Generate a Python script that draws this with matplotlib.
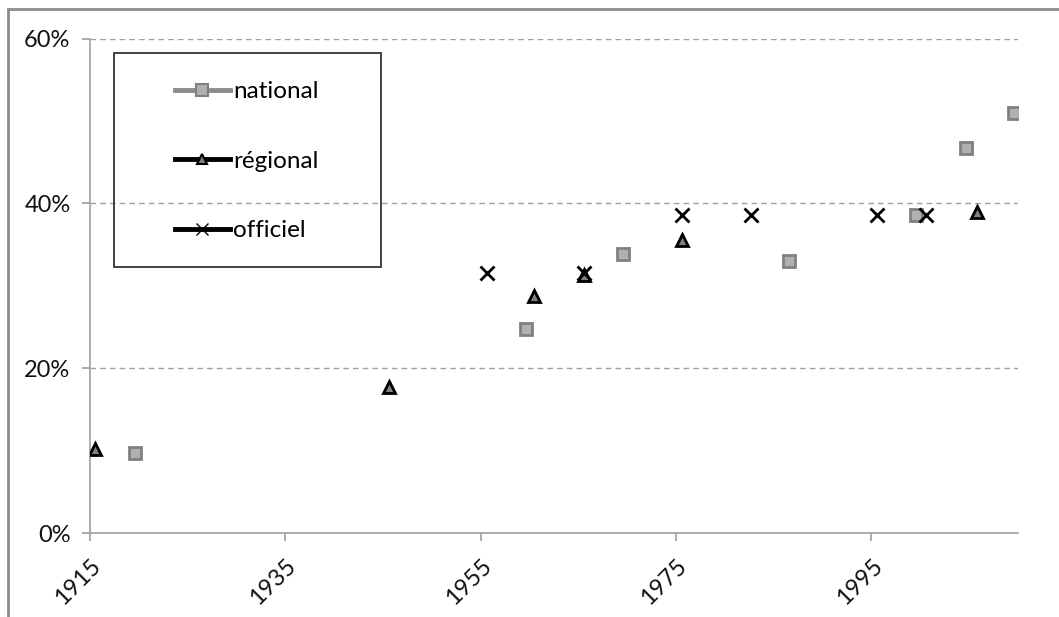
import matplotlib.pyplot as plt
import matplotlib.transforms as mtrans
from matplotlib.lines import Line2D
from matplotlib.patches import Rectangle

plt.rcParams['font.family'] = ['Lato', 'DejaVu Sans']

# values (share, %)
nat_years = [1919.6, 1959.6, 1969.6, 1986.6, 1999.6, 2004.7, 2009.6]
nat_vals = [9.7, 24.8, 33.8, 33.0, 38.6, 46.7, 50.9]
reg_years = [1915.5, 1945.6, 1960.5, 1965.6, 1975.6, 2005.8]
reg_vals = [10.2, 17.7, 28.8, 31.3, 35.6, 38.9]
off_years = [1955.6, 1965.6, 1975.6, 1982.7, 1995.6, 2000.6]
off_vals = [31.6, 31.6, 38.6, 38.6, 38.6, 38.6]
labels = ['national', 'régional', 'officiel']
xticks = [1915, 1935, 1955, 1975, 1995]
yticks = [0, 20, 40, 60]

W, H = 1059, 617
fig = plt.figure(figsize=(W / 100, H / 100), dpi=100)
ax = fig.add_axes([90 / W, 1 - 533 / H, (1018 - 90) / W, (533 - 38.5) / H])

# outer chart frame
fig.patches.append(Rectangle((8 / W, -0.1), 1.2, 1 - 9 / H + 0.1, transform=fig.transFigure,
                             fill=False, edgecolor='#8c8c8c', lw=2))

ax.plot(nat_years, nat_vals, ls='none', marker='s', ms=8.5, mfc='#b0b0b0',
        mec='#808080', mew=2, zorder=3)
ax.plot(reg_years, reg_vals, ls='none', marker='^', ms=8, mfc='#808080',
        mec='black', mew=2, zorder=4)
ax.plot(off_years, off_vals, ls='none', marker='x', ms=10, mec='black',
        mew=2, zorder=5)

ax.set_xlim(1915, 2010)
ax.set_ylim(0, 60)
ax.grid(axis='y', ls=(0, (4, 3)), color='#a0a0a0', lw=1)
ax.set_axisbelow(True)
for s in ['top', 'right']:
    ax.spines[s].set_visible(False)
for s in ['left', 'bottom']:
    ax.spines[s].set_color('#a0a0a0')
    ax.spines[s].set_linewidth(1.2)
ax.tick_params(axis='both', color='#a0a0a0', length=6, width=1.2)
ax.set_xticks(xticks)
ax.set_xticklabels([str(y) for y in xticks], fontsize=17, color='#111111',
                   rotation=45, ha='center', va='center', rotation_mode='anchor')
ax.set_yticks(yticks)
ax.set_yticklabels(['%d%%' % v for v in yticks], fontsize=17, color='#111111')
ax.tick_params(axis='y', pad=8)
ax.tick_params(axis='x', pad=29)
shift = mtrans.ScaledTranslation(-12 / 100, 0, fig.dpi_scale_trans)
for lab in ax.get_xticklabels():
    lab.set_transform(lab.get_transform() + shift)

# legend box drawn by hand, entries without frame
fig.patches.append(Rectangle((114 / W, 1 - 267 / H), (381 - 114) / W, (267 - 53) / H,
                             transform=fig.transFigure, fill=False,
                             edgecolor='#333333', lw=1.3, zorder=6))
handles = [
    Line2D([], [], color='#8c8c8c', lw=3.5, marker='s', ms=8, mfc='#b0b0b0', mec='#808080', mew=1.5),
    Line2D([], [], color='black', lw=3.5, marker='^', ms=7, mfc='#808080', mec='black', mew=1.5),
    Line2D([], [], color='black', lw=3.5, marker='x', ms=9, mec='black', mew=1),
]
leg = fig.legend(handles, labels, loc='upper left', bbox_to_anchor=(175 / W, 1 - 81 / H),
                 fontsize=17.5, frameon=False, handlelength=2.25, handletextpad=0.15,
                 labelspacing=2.0, borderpad=0, borderaxespad=0)

fig.savefig('out.png', dpi=100)
